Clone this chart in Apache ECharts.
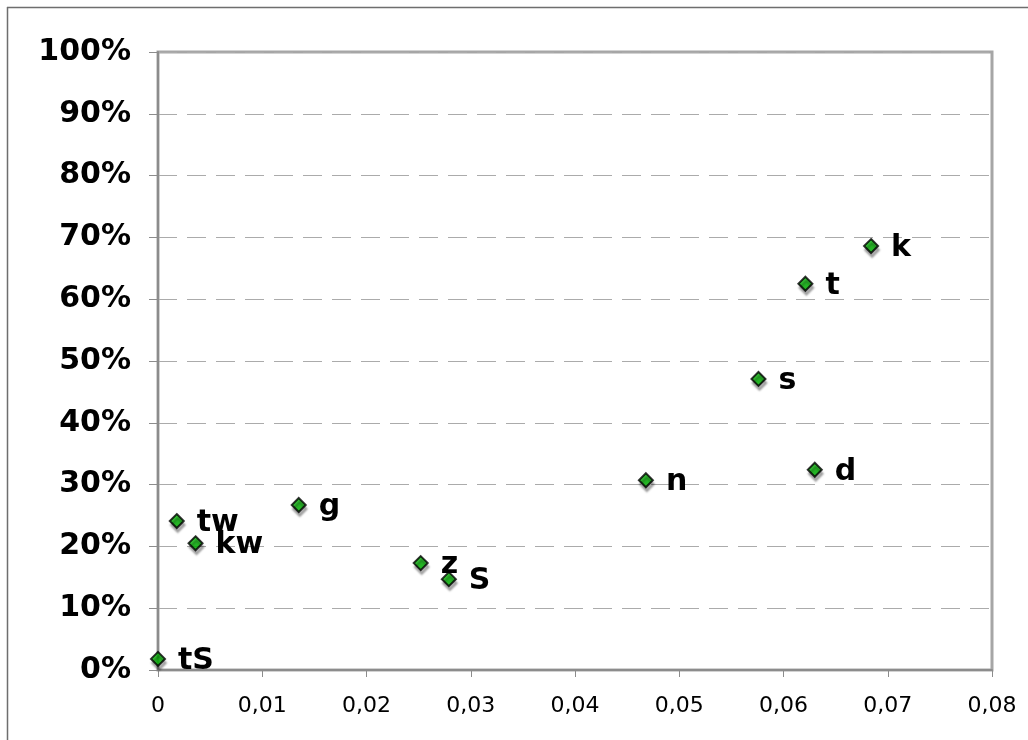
<!DOCTYPE html>
<html>
<head>
<meta charset="utf-8">
<script src="https://cdn.jsdelivr.net/npm/echarts@6/dist/echarts.min.js"></script>
<style>
  html, body { margin: 0; padding: 0; background: #fff; }
  #chart { width: 1028px; height: 740px; }
</style>
</head>
<body>
<div id="chart"></div>
<script>
// Point labels, x values and y values (percent)
const labels = ['tS', 'tw', 'kw', 'g', 'z', 'S', 'n', 's', 'd', 't', 'k'];
const xValues = [0.0000, 0.0018, 0.0036, 0.0135, 0.0252, 0.0279, 0.0468, 0.0576, 0.0630, 0.0621, 0.0684];
const yValues = [1.8, 24.1, 20.5, 26.7, 17.3, 14.7, 30.7, 47.1, 32.4, 62.5, 68.6];

const FONT = '"DejaVu Sans", Verdana, sans-serif';

const points = labels.map((name, i) => ({ name: name, value: [xValues[i], yValues[i]] }));

const chart = echarts.init(document.getElementById('chart'));
chart.setOption({
  animation: false,
  backgroundColor: '#ffffff',
  graphic: [
    // frame lines along the top and left of the chart
    { type: 'line', shape: { x1: 7, y1: 7.5, x2: 1028, y2: 7.5 }, style: { stroke: '#6e6e6e', lineWidth: 1.5 } },
    { type: 'line', shape: { x1: 7.5, y1: 7, x2: 7.5, y2: 740 }, style: { stroke: '#6e6e6e', lineWidth: 1.5 } }
  ],
  grid: {
    left: 158, right: 36, top: 52, bottom: 70,
    show: true,
    borderColor: '#a6a6a6',
    borderWidth: 3,
    backgroundColor: '#ffffff'
  },
  xAxis: {
    type: 'value',
    min: 0, max: 0.08, interval: 0.01,
    axisLine: { show: true, onZero: false, lineStyle: { color: '#8c8c8c', width: 2 } },
    axisTick: { show: true, length: 7, lineStyle: { color: '#8c8c8c', width: 1 } },
    splitLine: { show: false },
    axisLabel: {
      margin: 25,
      color: '#000',
      fontFamily: FONT,
      fontSize: 22,
      formatter: v => v === 0 ? '0' : v.toFixed(2).replace('.', ',')
    }
  },
  yAxis: {
    type: 'value',
    min: 0, max: 100, interval: 10,
    axisLine: { show: true, onZero: false, lineStyle: { color: '#8c8c8c', width: 2 } },
    axisTick: { show: true, length: 9, lineStyle: { color: '#8c8c8c', width: 1 } },
    splitLine: { show: true, lineStyle: { color: '#ababab', width: 1.2, type: [19, 10] } },
    axisLabel: {
      margin: 27,
      color: '#000',
      fontFamily: FONT,
      fontSize: 30,
      fontWeight: 'bold',
      formatter: v => Math.round(v) + '%'
    }
  },
  series: [{
    type: 'scatter',
    symbol: 'diamond',
    symbolSize: 14,
    data: points,
    itemStyle: {
      color: '#00b400',
      borderColor: '#000',
      borderWidth: 2,
      shadowColor: 'rgba(0,0,0,0.35)',
      shadowBlur: 2,
      shadowOffsetX: 1,
      shadowOffsetY: 4
    },
    label: {
      show: true,
      position: 'right',
      distance: 12,
      offset: [0, 2],
      formatter: p => p.name,
      color: '#000000',
      opacity: 1,
      textBorderWidth: 0,
      textShadowBlur: 0,
      fontFamily: FONT,
      fontSize: 30,
      fontWeight: 'bold'
    },
    emphasis: { disabled: true }
  }]
});
</script>
</body>
</html>
